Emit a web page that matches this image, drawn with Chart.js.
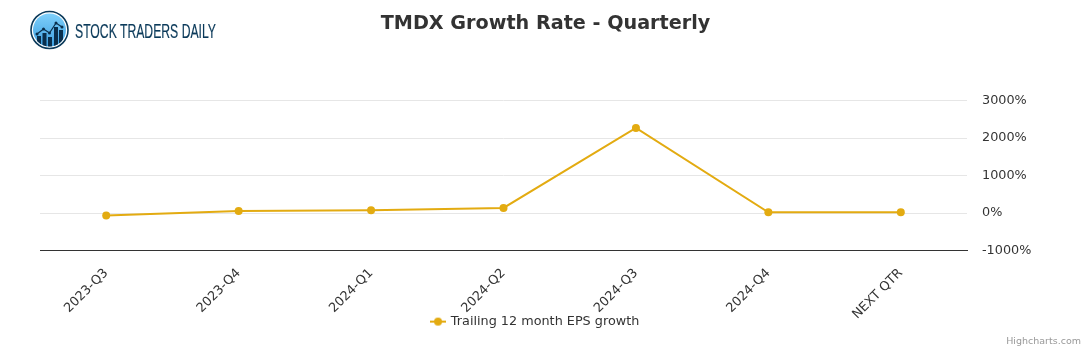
<!DOCTYPE html>
<html>
<head>
<meta charset="utf-8">
<title>TMDX Growth Rate - Quarterly</title>
<script src="https://cdn.jsdelivr.net/npm/chart.js@4"></script>
<style>
  html, body { margin: 0; padding: 0; background: #fff; }
  #wrap { position: relative; width: 1091px; height: 350px; overflow: hidden; }
  #logo { position: absolute; left: 0; top: 0; }
  #credit { position: absolute; right: 10px; top: 335px; font: 9.5px "DejaVu Sans", sans-serif; color: #999; }
</style>
</head>
<body>
<div id="wrap">
  <canvas id="chart" width="1091" height="350"></canvas>
  <svg id="logo" width="230" height="56">
    <defs>
      <linearGradient id="sky" x1="0" y1="0" x2="0" y2="1">
        <stop offset="0" stop-color="#7fd0fb"/>
        <stop offset="1" stop-color="#3c9fe0"/>
      </linearGradient>
      <clipPath id="disc"><circle cx="49.5" cy="30" r="16.5"/></clipPath>
    </defs>
    <circle cx="49.5" cy="30" r="18.5" fill="#fff" stroke="#0b3a5a" stroke-width="1.6"/>
    <circle cx="49.5" cy="30" r="16.5" fill="url(#sky)"/>
    <g clip-path="url(#disc)" fill="#0a2f4c">
      <rect x="37" y="36" width="4" height="14"/>
      <rect x="42.5" y="33" width="4" height="16"/>
      <rect x="48" y="37" width="4" height="13"/>
      <rect x="54" y="27" width="4" height="22"/>
      <rect x="59" y="30" width="4" height="19"/>
    </g>
    <polyline points="37,34 43.5,29 49.5,33 56,23 62,27" fill="none" stroke="#0a2f4c" stroke-width="1.2"/>
    <g fill="#0a2f4c">
      <circle cx="37" cy="34" r="1.5"/><circle cx="43.5" cy="29" r="1.5"/><circle cx="49.5" cy="33" r="1.5"/>
      <circle cx="56" cy="23" r="1.5"/><circle cx="62" cy="27" r="1.5"/>
    </g>
    <text x="75" y="38" font-family="'Liberation Sans Narrow','Liberation Sans',sans-serif" font-size="21"
          fill="#0b3a5a" stroke="#0b3a5a" stroke-width="0.2" textLength="141" lengthAdjust="spacingAndGlyphs">STOCK TRADERS DAILY</text>
  </svg>
  <div id="credit">Highcharts.com</div>
</div>

<script>
// -------- datos ----------
const categories = ["2023-Q3", "2023-Q4", "2024-Q1", "2024-Q2", "2024-Q3", "2024-Q4", "NEXT QTR"];
const epsGrowth  = [-65, 55, 80, 140, 2270, 25, 25];
const seriesName = "Trailing 12 month EPS growth";
const chartTitle = "TMDX Growth Rate - Quarterly";

const GOLD = "#e3ab11";
const TEXT = "#333333";
const FONT = "'DejaVu Sans', sans-serif";

// legend marker: short line with a dot, highcharts style
function legendMarker() {
  const c = document.createElement("canvas");
  c.width = 16; c.height = 10;
  const g = c.getContext("2d");
  g.strokeStyle = GOLD; g.lineWidth = 2;
  g.beginPath(); g.moveTo(0, 5); g.lineTo(16, 5); g.stroke();
  g.fillStyle = GOLD;
  g.beginPath(); g.arc(8, 5, 4, 0, Math.PI * 2); g.fill();
  return c;
}

// title and legend do not follow the left padding in the original, move them after layout
const placeBoxes = {
  id: "placeBoxes",
  afterLayout(chart) {
    const { legend, titleBlock } = chart;
    legend.left -= 30;
    legend.right -= 30;
    legend.top -= 12;
    legend.bottom -= 12;
    legend.adjustHitBoxes();
    titleBlock.left -= 20;
    titleBlock.right -= 20;
  }
};

new Chart(document.getElementById("chart"), {
  type: "line",
  data: {
    labels: categories,
    datasets: [{
      label: seriesName,
      data: epsGrowth,
      borderColor: GOLD,
      backgroundColor: GOLD,
      borderWidth: 2,
      tension: 0,
      pointRadius: 4,
      pointBackgroundColor: GOLD,
      pointBorderWidth: 0,
      pointStyle: "circle"
    }]
  },
  options: {
    responsive: false,
    animation: false,
    layout: { padding: { left: 40, right: 0, top: 0, bottom: 0 } },
    plugins: {
      tooltip: { enabled: false },
      title: {
        display: true,
        text: chartTitle,
        color: TEXT,
        font: { family: FONT, size: 19.2, weight: "bold" },
        padding: { top: 12.5, bottom: 65 }
      },
      legend: {
        position: "bottom",
        labels: {
          color: TEXT,
          font: { family: FONT, size: 12.8 },
          usePointStyle: true,
          pointStyle: legendMarker(),
          padding: 6
        }
      }
    },
    scales: {
      x: {
        offset: true,
        grid: { display: false, drawTicks: false },
        border: { display: true, color: "#333333", width: 1 },
        ticks: { color: TEXT, font: { family: FONT, size: 12.8 }, minRotation: 45, maxRotation: 45, autoSkip: false, padding: 15 },
        afterFit(scale) { scale.height = 70.5; }
      },
      y: {
        position: "right",
        min: -1000,
        max: 3000,
        grid: { color: "#e6e6e6", drawTicks: false },
        border: { display: false },
        ticks: {
          stepSize: 1000,
          color: TEXT,
          font: { family: FONT, size: 12.8 },
          padding: 15,
          callback: (v) => v + "%"
        },
        afterFit(scale) { scale.width = 124; }
      }
    }
  },
  plugins: [placeBoxes]
});
</script>
</body>
</html>
